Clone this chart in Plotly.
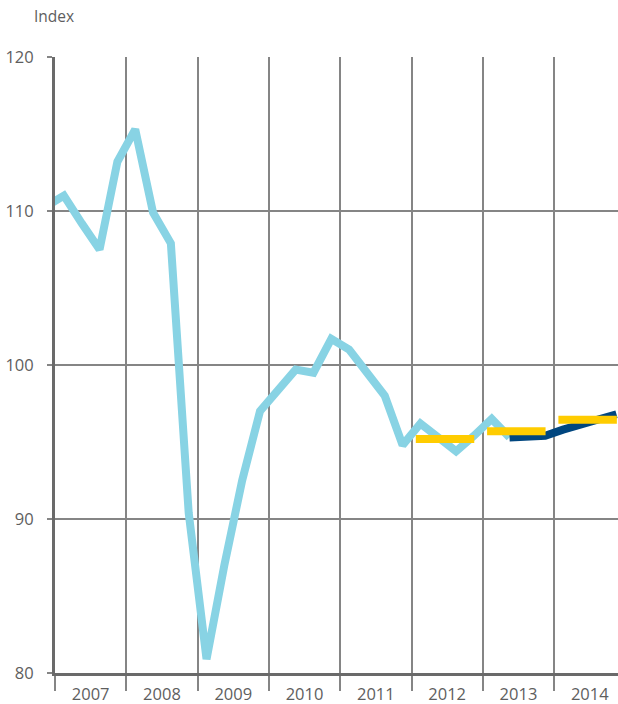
import plotly.graph_objects as go

# Quarterly index (light blue), 2006Q4 .. 2013Q2
hist_quarters = ["2006Q4",
                 "2007Q1", "2007Q2", "2007Q3", "2007Q4",
                 "2008Q1", "2008Q2", "2008Q3", "2008Q4",
                 "2009Q1", "2009Q2", "2009Q3", "2009Q4",
                 "2010Q1", "2010Q2", "2010Q3", "2010Q4",
                 "2011Q1", "2011Q2", "2011Q3", "2011Q4",
                 "2012Q1", "2012Q2", "2012Q3", "2012Q4",
                 "2013Q1", "2013Q2"]
hist_values = [110.3,
               111.0, 109.2, 107.5, 113.2,
               115.3, 109.9, 107.9, 90.4,
               80.9, 87.0, 92.5, 97.0,
               98.4, 99.7, 99.5, 101.7,
               101.0, 99.6, 98.0, 94.8,
               96.2, 95.3, 94.4, 95.4,
               96.5, 95.3]

# Forecast (dark blue), 2013Q2 .. 2014Q4
fc_quarters = ["2013Q2", "2013Q3", "2013Q4",
               "2014Q1", "2014Q2", "2014Q3", "2014Q4"]
fc_values = [95.3, 95.3, 95.4, 95.8, 96.1, 96.5, 96.8]

# Annual averages (yellow)
avg_years = [2012, 2013, 2014]
avg_values = [95.2, 95.7, 96.45]

year_labels = ["2007", "2008", "2009", "2010", "2011", "2012", "2013", "2014"]
y_ticks = [80, 90, 100, 110, 120]


def qpos(q):
    y, n = q.split("Q")
    return int(y) + (int(n) - 0.5) / 4


GRID = "#858585"
AXIS = "#6a6a6a"
TXT = "#5e5e5e"
FONT = "Open Sans"

fig = go.Figure()
fig.add_trace(go.Scatter(x=[qpos(q) for q in hist_quarters], y=hist_values,
                         mode="lines", line=dict(color="#88D3E4", width=8),
                         hoverinfo="skip", showlegend=False))
fig.add_trace(go.Scatter(x=[qpos(q) for q in fc_quarters], y=fc_values,
                         mode="lines", line=dict(color="#00467F", width=8),
                         hoverinfo="skip", showlegend=False))
ax, ay = [], []
for yr, v in zip(avg_years, avg_values):
    ax += [yr + 0.06, yr + 0.88, None]
    ay += [v, v, None]
fig.add_trace(go.Scatter(x=ax, y=ay, mode="lines",
                         line=dict(color="#FFCC00", width=8),
                         hoverinfo="skip", showlegend=False))
# invisible trace for the label axis
fig.add_trace(go.Scatter(x=[2007.5], y=[None], xaxis="x2", showlegend=False,
                         hoverinfo="skip"))

x0, x1 = 2007, 2014.896
fig.update_layout(
    width=618, height=704,
    margin=dict(l=55, r=0, t=57, b=31, autoexpand=False),
    paper_bgcolor="white", plot_bgcolor="white",
    font=dict(family=FONT, color=TXT, size=16),
    xaxis=dict(range=[x0, x1], tickvals=list(range(2007, 2015)),
               showticklabels=False, showgrid=True, gridcolor=GRID, gridwidth=1.5,
               ticks="outside", ticklen=15, tickwidth=1.5, tickcolor=GRID,
               showline=True, linecolor=AXIS, linewidth=3, zeroline=False,
               automargin=False),
    xaxis2=dict(range=[x0, x1], overlaying="x", side="bottom",
                tickvals=[2007.5 + i for i in range(len(year_labels))],
                ticktext=year_labels, showgrid=False, zeroline=False,
                ticks="outside", ticklen=6, tickcolor="rgba(0,0,0,0)",
                tickfont=dict(size=16.5, color=TXT, family=FONT), automargin=False),
    yaxis=dict(range=[80, 120], tickvals=y_ticks, showgrid=True, gridcolor=GRID,
               gridwidth=1.5, ticks="outside", ticklen=5, tickwidth=1.5,
               tickcolor=GRID, showline=True, linecolor=AXIS, linewidth=3,
               zeroline=False, tickfont=dict(size=16.5, color=TXT, family=FONT),
               ticklabelstandoff=10, automargin=False),
    annotations=[dict(text="Index", xref="paper", yref="paper",
                      x=-23 / 563, y=1 + 41 / 616, xanchor="left", yanchor="middle",
                      showarrow=False, font=dict(size=15.5, color=TXT, family=FONT))],
)

fig.write_html("out.html", config={"displayModeBar": False},
               post_script="document.body.style.margin='0';document.body.style.overflow='hidden';")
